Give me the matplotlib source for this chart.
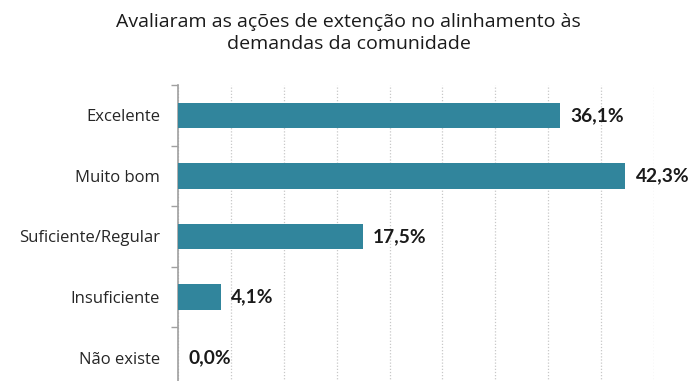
import numpy as np
import matplotlib.pyplot as plt

# survey answers, top to bottom
categorias = ['Excelente', 'Muito bom', 'Suficiente/Regular', 'Insuficiente', 'Não existe']
percentuais = [36.1, 42.3, 17.5, 4.1, 0.0]
titulo = 'Avaliaram as ações de extenção no alinhamento às\ndemandas da comunidade'

cor_barra = '#31859C'

fig = plt.figure(figsize=(6.92, 3.81), dpi=100)
ax = fig.add_axes([178 / 692, -7 / 381, 476 / 692, 303 / 381])

y = np.arange(len(categorias))
ax.barh(y, percentuais, height=0.42, color=cor_barra, zorder=3)
ax.set_ylim(len(categorias) - 0.5, -0.5)
ax.set_xlim(0, 45)

for yi, v in zip(y, percentuais):
    ax.text(v + 0.95, yi, f'{v:.1f}%'.replace('.', ','), va='center', ha='left',
            fontsize=13.8, fontweight='bold', family='Lato', color='#1a1a1a')

# dotted vertical grid every 5%
ax.set_xticks(np.arange(0, 46, 5))
ax.xaxis.grid(True, linestyle=(0, (1, 1.5)), color='#c8c8c8', linewidth=0.9, zorder=0)
ax.tick_params(axis='x', length=0, labelbottom=False)

ax.set_yticks(y)
ax.set_yticklabels(categorias, fontsize=12, family='Open Sans', color='#262626')
ax.tick_params(axis='y', length=0, pad=13)
ax.set_yticks(np.arange(-0.5, len(categorias), 1), minor=True)
ax.tick_params(axis='y', which='minor', length=5, width=1, color='#a0a0a0')

for s in ['top', 'right', 'bottom']:
    ax.spines[s].set_visible(False)
ax.spines['left'].set_color('#a0a0a0')
ax.spines['left'].set_linewidth(1.2)

fig.text(0.504, 1 - 33 / 381, titulo, ha='center', va='center', fontsize=14,
         family='Open Sans', color='#1a1a1a', linespacing=1.3)

fig.savefig('out.png', dpi=100)
